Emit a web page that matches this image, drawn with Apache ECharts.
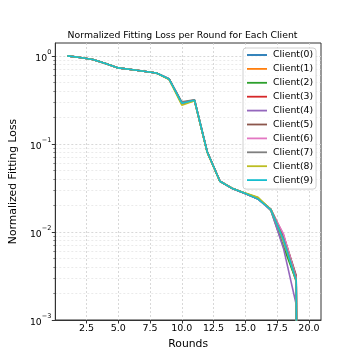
<!DOCTYPE html>
<html>
<head>
<meta charset="utf-8">
<script src="https://cdn.jsdelivr.net/npm/echarts@6/dist/echarts.min.js"></script>
<style>
  html, body { margin: 0; padding: 0; background: #fff; }
  #dataChart { width: 357px; height: 360px; }
</style>
</head>
<body>
<div id="dataChart"></div>
<script>
// rounds on the x axis
const rounds = [1, 2, 3, 4, 5, 6, 7, 8, 9, 10, 11, 12, 13, 14, 15, 16, 17, 18, 19, 20]
const clientNames = ['Client(0)', 'Client(1)', 'Client(2)', 'Client(3)', 'Client(4)',
  'Client(5)', 'Client(6)', 'Client(7)', 'Client(8)', 'Client(9)']

// normalized loss per client (round 20 is 0 -> falls off the log axis)
const client0 = [1.0, 0.96, 0.91, 0.82, 0.73, 0.70, 0.67, 0.64, 0.545, 0.290, 0.312, 0.081, 0.0377, 0.0310, 0.0273, 0.0238, 0.0180, 0.0082, 0.0029, 0]
const client1 = [1.0, 0.96, 0.91, 0.82, 0.73, 0.70, 0.67, 0.64, 0.543, 0.285, 0.310, 0.080, 0.0376, 0.0311, 0.0274, 0.0240, 0.0178, 0.0078, 0.0027, 0]
const client2 = [1.0, 0.96, 0.91, 0.82, 0.73, 0.70, 0.67, 0.64, 0.544, 0.288, 0.311, 0.081, 0.0378, 0.0312, 0.0275, 0.0244, 0.0176, 0.0068, 0.0028, 0]
const client3 = [1.0, 0.96, 0.91, 0.82, 0.73, 0.70, 0.67, 0.64, 0.545, 0.291, 0.313, 0.081, 0.0377, 0.0311, 0.0273, 0.0237, 0.0181, 0.0090, 0.0031, 0]
const client4 = [1.0, 0.96, 0.91, 0.82, 0.73, 0.70, 0.67, 0.64, 0.545, 0.290, 0.312, 0.081, 0.0377, 0.0310, 0.0272, 0.0236, 0.0177, 0.0065, 0.0015, 0]
const client5 = [1.0, 0.96, 0.91, 0.82, 0.73, 0.70, 0.67, 0.64, 0.547, 0.295, 0.316, 0.082, 0.0378, 0.0311, 0.0273, 0.0237, 0.0182, 0.0092, 0.0032, 0]
const client6 = [1.0, 0.96, 0.91, 0.82, 0.73, 0.70, 0.67, 0.64, 0.545, 0.292, 0.313, 0.081, 0.0380, 0.0312, 0.0274, 0.0238, 0.0177, 0.0095, 0.0030, 0]
const client7 = [1.0, 0.96, 0.91, 0.82, 0.73, 0.70, 0.67, 0.64, 0.548, 0.300, 0.318, 0.082, 0.0377, 0.0311, 0.0273, 0.0239, 0.0180, 0.0084, 0.0029, 0]
const client8 = [1.0, 0.96, 0.91, 0.82, 0.73, 0.70, 0.67, 0.64, 0.540, 0.275, 0.309, 0.080, 0.0376, 0.0312, 0.0276, 0.0248, 0.0180, 0.0080, 0.0028, 0]
const client9 = [1.0, 0.96, 0.91, 0.82, 0.73, 0.70, 0.67, 0.64, 0.545, 0.290, 0.313, 0.081, 0.0377, 0.0311, 0.0273, 0.0236, 0.0179, 0.0081, 0.0028, 0]
const clientData = [client0, client1, client2, client3, client4, client5, client6, client7, client8, client9]

// tab10
const colors = ['#1f77b4', '#ff7f0e', '#2ca02c', '#d62728', '#9467bd', '#8c564b', '#e377c2', '#7f7f7f', '#bcbd22', '#17becf']

const xTicks = [2.5, 5, 7.5, 10, 12.5, 15, 17.5, 20]
const yTicks = [0.001, 0.01, 0.1, 1]
const yMinorTicks = []
for (let k = -3; k < 0; k++) {
  for (let m = 2; m <= 9; m++) yMinorTicks.push(m * Math.pow(10, k))
}

const axisFont = { fontFamily: 'DejaVu Sans', color: '#000' }
const majorGrid = { show: true, lineStyle: { color: '#cfcfcf', width: 0.8, type: [2, 2] } }

const option = {
  animation: false,
  textStyle: { fontFamily: 'DejaVu Sans' },
  grid: { left: 44, right: 36, top: 43, bottom: 40, show: true, borderColor: '#333', borderWidth: 1, backgroundColor: 'transparent' },
  graphic: [{
    type: 'text',
    x: 182.5,
    y: 31,
    style: { text: 'Normalized Fitting Loss per Round for Each Client', fontSize: 9.3, fontFamily: 'DejaVu Sans', fill: '#000', textAlign: 'center' }
  }],
  legend: {
    orient: 'vertical',
    left: 243,
    top: 48,
    padding: [2, 3, 4, 4],
    itemGap: 3.9,
    itemWidth: 20,
    itemHeight: 10,
    // plain line sample, no marker
    icon: 'path://M0,0 M0,4.1 L20,4.1 L20,5.9 L0,5.9 Z M20,10',
    backgroundColor: 'rgba(255,255,255,0.8)',
    borderColor: '#d0d0d0',
    borderWidth: 1,
    borderRadius: 3,
    textStyle: { fontSize: 9.3, fontFamily: 'DejaVu Sans', color: '#000', padding: [0, 0, 0, 1] },
    data: clientNames
  },
  xAxis: {
    type: 'value',
    min: 0.05,
    max: 20.95,
    name: 'Rounds',
    nameLocation: 'middle',
    nameGap: 15,
    nameTextStyle: { fontSize: 10.8, ...axisFont },
    axisLine: { show: true, lineStyle: { color: '#333', width: 1 } },
    axisTick: { show: true, length: 3.5, customValues: xTicks, lineStyle: { color: '#333' } },
    axisLabel: { customValues: xTicks, fontSize: 9.5, margin: 4, ...axisFont, formatter: v => v.toFixed(1) },
    splitLine: majorGrid
  },
  yAxis: [
    {
      type: 'log',
      logBase: 10,
      min: 0.001,
      max: 1.4,
      position: 'left',
      name: 'Normalized Fitting Loss',
      nameLocation: 'middle',
      nameGap: 30,
      nameTextStyle: { fontSize: 10.8, ...axisFont },
      axisLine: { show: true, lineStyle: { color: '#333', width: 1 } },
      axisTick: { show: true, length: 3.5, customValues: yTicks, lineStyle: { color: '#333' } },
      axisLabel: {
        customValues: yTicks,
        margin: 4,
        formatter: v => '{b|10}{s|' + String(Math.round(Math.log10(v))).replace('-', '\u2212') + '}',
        rich: {
          b: { fontSize: 9.3, fontFamily: 'DejaVu Sans', color: '#000', verticalAlign: 'bottom', lineHeight: 14 },
          s: { fontSize: 6.5, fontFamily: 'DejaVu Sans', color: '#000', verticalAlign: 'top', lineHeight: 14 }
        }
      },
      splitLine: majorGrid
    },
    {
      type: 'log',
      logBase: 10,
      min: 0.001,
      max: 1.4,
      position: 'left',
      axisLine: { show: false },
      axisTick: { show: true, length: 2, customValues: yMinorTicks, lineStyle: { color: '#333', width: 0.6 } },
      axisLabel: { show: false },
      splitLine: { show: true, lineStyle: { color: '#dcdcdc', width: 0.6, type: [2, 2] } }
    }
  ],
  series: clientData.map((vals, i) => ({
    name: clientNames[i],
    type: 'line',
    yAxisIndex: 0,
    symbol: 'none',
    showSymbol: false,
    clip: true,
    color: colors[i],
    lineStyle: { width: 1.6, color: colors[i] },
    // like matplotlib's clip: non-positive values go far below the axis
    data: rounds.map((r, j) => [r, vals[j] > 0 ? vals[j] : 1e-30])
  }))
}

const myChart = echarts.init(document.getElementById('dataChart'))
myChart.setOption(option)
</script>
</body>
</html>
